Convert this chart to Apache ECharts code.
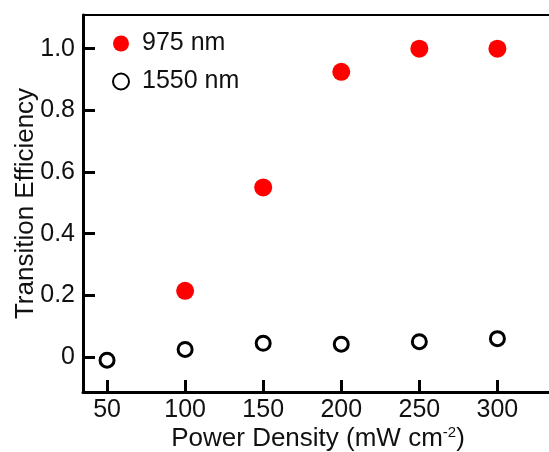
<!DOCTYPE html>
<html>
<head>
<meta charset="utf-8">
<script src="https://cdn.jsdelivr.net/npm/echarts@6/dist/echarts.min.js"></script>
<style>
  html, body { margin: 0; padding: 0; background: #fff; }
  #main { width: 549px; height: 452px; }
</style>
</head>
<body>
<div id="main"></div>
<script>
var powerDensity = [50, 100, 150, 200, 250, 300];
var eff975 = [null, 0.215, 0.55, 0.925, 1.0, 1.0];
var eff1550 = [-0.01, 0.025, 0.045, 0.042, 0.05, 0.06];
var xTicks = [50, 100, 150, 200, 250, 300];
var yTicks = [0, 0.2, 0.4, 0.6, 0.8, 1.0];

function pairs(xs, ys) {
  var out = [];
  for (var i = 0; i < xs.length; i++) {
    if (ys[i] != null) out.push([xs[i], ys[i]]);
  }
  return out;
}

var font = 'Liberation Sans, Arial, sans-serif';
var xMin = 34.6, xMax = 335.6;
var myChart = echarts.init(document.getElementById('main'));
myChart.setOption({
  animation: false,
  grid: {
    left: 83, top: 15, right: -4, bottom: 60,
    outerBoundsMode: 'none', containLabel: false, show: false
  },
  legend: {
    left: 107, top: 26, orient: 'vertical', itemGap: 13,
    itemWidth: 16, itemHeight: 16,
    textStyle: { fontFamily: font, fontSize: 25, color: '#111', padding: [0, 0, 0, 8] },
    data: [
      { name: '975 nm', icon: 'circle' },
      { name: '1550 nm', icon: 'circle' }
    ]
  },
  xAxis: [{
    type: 'value', min: xMin, max: xMax,
    name: 'Power Density (mW cm{sup|-2})',
    nameLocation: 'middle', nameGap: 33, nameMoveOverlap: false,
    nameTextStyle: {
      fontFamily: font, fontSize: 26, color: '#111',
      rich: { sup: { fontFamily: font, fontSize: 15, verticalAlign: 'top', color: '#111', padding: [0, 0, 12, 0] } }
    },
    axisLine: { onZero: false, lineStyle: { color: '#000', width: 3 } },
    axisTick: { inside: true, length: 12, lineStyle: { color: '#000', width: 3 }, customValues: xTicks },
    axisLabel: { fontFamily: font, fontSize: 25, color: '#111', margin: 6, customValues: xTicks },
    splitLine: { show: false }
  }, {
    // top frame line only (the right edge is cut off in the original)
    type: 'value', position: 'top', min: xMin, max: xMax,
    axisLine: { onZero: false, lineStyle: { color: '#000', width: 2 } },
    axisTick: { show: false }, axisLabel: { show: false }, splitLine: { show: false }
  }],
  yAxis: {
    type: 'value', min: -0.113, max: 1.109,
    name: 'Transition Efficiency',
    nameLocation: 'middle', nameGap: 44, nameMoveOverlap: false,
    nameTextStyle: { fontFamily: font, fontSize: 26, color: '#111' },
    axisLine: { onZero: false, lineStyle: { color: '#000', width: 3 } },
    axisTick: { inside: true, length: 12, lineStyle: { color: '#000', width: 3 }, customValues: yTicks },
    axisLabel: {
      fontFamily: font, fontSize: 25, color: '#111', margin: 8, customValues: yTicks,
      formatter: function (v) { return v === 0 ? '0' : v.toFixed(1); }
    },
    splitLine: { show: false }
  },
  series: [
    {
      name: '975 nm', type: 'scatter', symbol: 'circle', symbolSize: 18,
      itemStyle: { color: '#ff0000', opacity: 1 },
      data: pairs(powerDensity, eff975)
    },
    {
      name: '1550 nm', type: 'scatter', symbol: 'circle', symbolSize: 14,
      itemStyle: { color: '#fff', borderColor: '#000', borderWidth: 3, opacity: 1 },
      data: pairs(powerDensity, eff1550)
    }
  ]
});
</script>
</body>
</html>
